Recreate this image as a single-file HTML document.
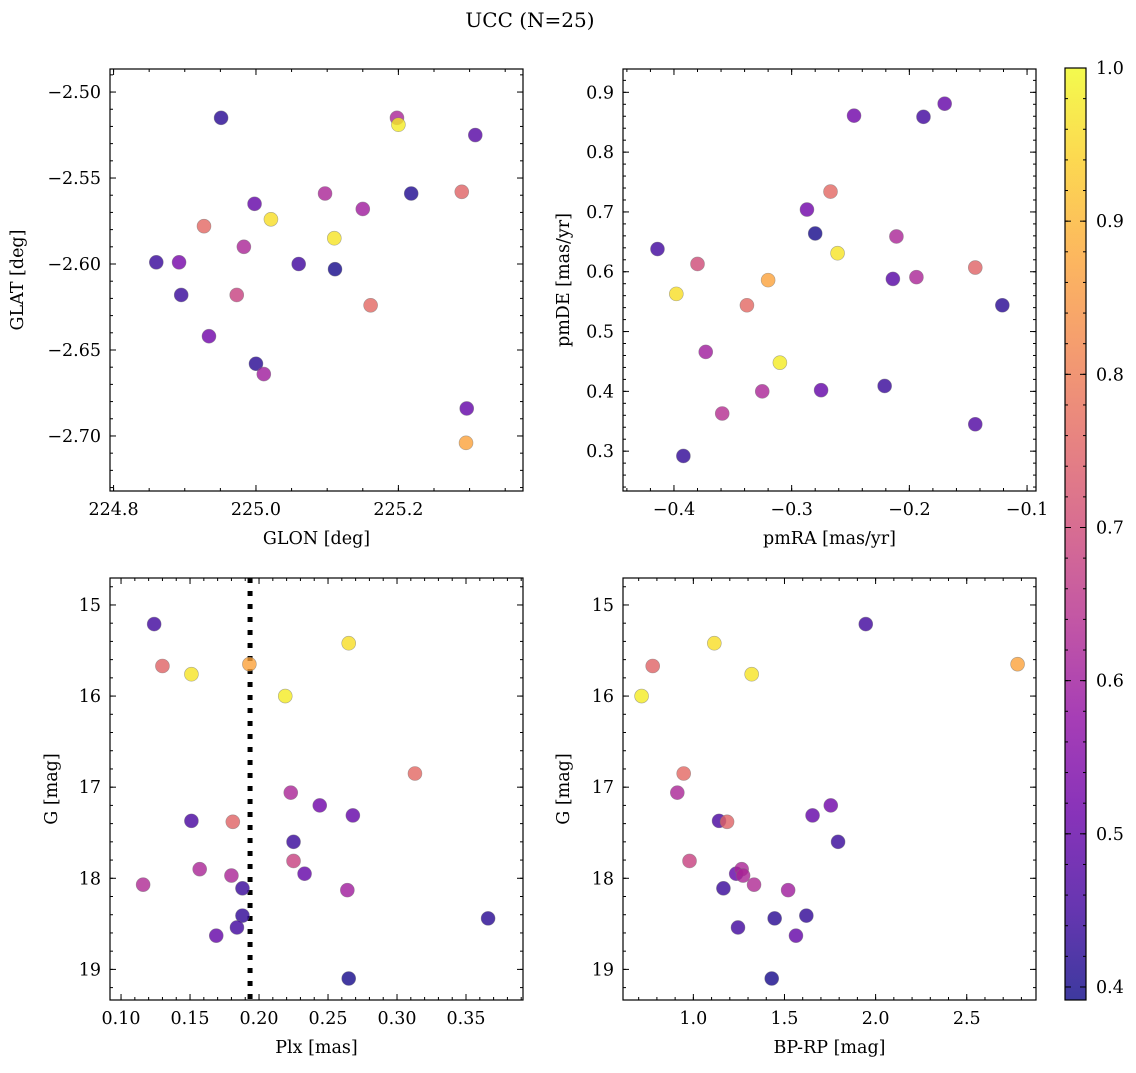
<!DOCTYPE html>
<html><head><meta charset="utf-8"><style>
body{margin:0;background:#fff;}
svg text{font-family:"DejaVu Serif","Liberation Serif",serif;fill:#000;}
</style></head><body>
<svg id="fig" xmlns="http://www.w3.org/2000/svg" width="1136" height="1068" viewBox="0 0 1136 1068">
<defs><linearGradient id="plasma" x1="0" y1="1" x2="0" y2="0">
<stop offset="0" stop-color="#0d0887"/><stop offset="0.1" stop-color="#41049d"/><stop offset="0.2" stop-color="#6a00a8"/><stop offset="0.3" stop-color="#8f0da4"/><stop offset="0.4" stop-color="#b12a90"/><stop offset="0.5" stop-color="#cc4778"/><stop offset="0.6" stop-color="#e16462"/><stop offset="0.7" stop-color="#f2844b"/><stop offset="0.8" stop-color="#fca636"/><stop offset="0.9" stop-color="#fcce25"/><stop offset="1" stop-color="#f0f921"/>
</linearGradient></defs>
<text x="530" y="27" font-size="20" text-anchor="middle">UCC (N=25)</text>
</svg>
<script>
// Panel 1: GLON / GLAT
const glon = [224.951,225.198,225.200,225.308,225.218,225.289,225.097,225.150,224.998,225.021,224.927,225.110,224.983,224.860,224.892,225.060,225.111,224.895,224.973,225.161,224.934,225.000,225.011,225.296,225.295];
const glat = [-2.515,-2.515,-2.519,-2.525,-2.559,-2.558,-2.559,-2.568,-2.565,-2.574,-2.578,-2.585,-2.590,-2.599,-2.599,-2.600,-2.603,-2.618,-2.618,-2.624,-2.642,-2.658,-2.664,-2.684,-2.704];
const prob1 = [0.42,0.62,0.98,0.48,0.41,0.75,0.62,0.60,0.50,0.96,0.76,0.97,0.62,0.44,0.53,0.45,0.40,0.44,0.68,0.76,0.52,0.42,0.60,0.50,0.87];
// Panel 2: pmRA / pmDE
const pmra = [-0.247,-0.188,-0.170,-0.267,-0.287,-0.280,-0.211,-0.261,-0.414,-0.380,-0.398,-0.320,-0.338,-0.214,-0.194,-0.144,-0.121,-0.373,-0.310,-0.325,-0.275,-0.221,-0.359,-0.144,-0.392];
const pmde = [0.861,0.859,0.881,0.734,0.704,0.664,0.659,0.631,0.638,0.613,0.563,0.586,0.544,0.588,0.591,0.607,0.544,0.466,0.448,0.400,0.402,0.409,0.363,0.345,0.292];
const prob2 = [0.52,0.45,0.50,0.76,0.52,0.40,0.62,0.97,0.45,0.70,0.96,0.87,0.76,0.48,0.62,0.75,0.42,0.60,0.98,0.62,0.50,0.44,0.64,0.47,0.43];
// Panels 3/4: Plx, BP-RP, G
const gmag = [15.21,15.65,15.42,15.67,15.76,16.00,16.85,17.06,17.20,17.31,17.37,17.38,17.60,17.81,17.90,17.95,17.97,18.07,18.11,18.13,18.44,18.41,18.54,18.63,19.10];
const plx = [0.124,0.193,0.265,0.130,0.151,0.219,0.313,0.223,0.244,0.268,0.151,0.181,0.225,0.225,0.157,0.233,0.180,0.116,0.188,0.264,0.366,0.188,0.184,0.169,0.265];
const bprp = [1.946,2.779,1.115,0.777,1.320,0.716,0.947,0.912,1.754,1.654,1.141,1.185,1.794,0.979,1.265,1.235,1.273,1.333,1.165,1.520,1.446,1.620,1.245,1.563,1.430];
const prob3 = [0.45,0.87,0.96,0.75,0.97,0.98,0.76,0.62,0.52,0.50,0.46,0.75,0.44,0.68,0.62,0.50,0.62,0.63,0.44,0.60,0.42,0.43,0.45,0.50,0.40];
const plxMedian = 0.1935;
const cbTicks = [0.4,0.5,0.6,0.7,0.8,0.9,1.0];
const cbMin = 0.3915, cbMax = 1.0;

const NS = "http://www.w3.org/2000/svg";
const svg = document.getElementById('fig');
const stops = [[13,8,135],[65,4,157],[106,0,168],[143,13,164],[177,42,144],[204,71,120],[225,100,98],[242,132,75],[252,166,54],[252,206,37],[240,249,33]];
function plasma(p){
  let t = Math.max(0, Math.min(1, (p - cbMin) / (cbMax - cbMin))) * 10;
  let i = Math.min(9, Math.floor(t)), f = t - i;
  const c = stops[i].map((v, k) => Math.round(v + (stops[i+1][k] - v) * f));
  return `rgb(${c[0]},${c[1]},${c[2]})`;
}
function mk(tag, attrs, parent){
  const e = document.createElementNS(NS, tag);
  for (const k in attrs) e.setAttribute(k, attrs[k]);
  (parent || svg).appendChild(e);
  return e;
}
function fmt(v, d){ return (v < 0 ? '\u2212' : '') + Math.abs(v).toFixed(d); }

function panel(cfg){
  const g = mk('g', {});
  
  
  const {L, T, R, B} = cfg;
  const sx = v => L + (v - cfg.x0) / (cfg.x1 - cfg.x0) * (R - L);
  const sy = cfg.yInv ? v => T + (v - cfg.y0) / (cfg.y1 - cfg.y0) * (B - T)
                      : v => B - (v - cfg.y0) / (cfg.y1 - cfg.y0) * (B - T);
  const tg = mk('g', {stroke: '#000', 'stroke-width': 1}, g);
  function ticksX(step, len){
    const s = Math.ceil(cfg.x0 / step - 1e-6);
    for (let k = s; k * step <= cfg.x1 + 1e-9; k++){
      const x = sx(k * step);
      mk('line', {x1: x, x2: x, y1: B, y2: B - len}, tg);
      mk('line', {x1: x, x2: x, y1: T, y2: T + len}, tg);
    }
  }
  function ticksY(step, len){
    const lo = Math.min(cfg.y0, cfg.y1), hi = Math.max(cfg.y0, cfg.y1);
    const s = Math.ceil(lo / step - 1e-6);
    for (let k = s; k * step <= hi + 1e-9; k++){
      const y = sy(k * step);
      mk('line', {x1: L, x2: L + len, y1: y, y2: y}, tg);
      mk('line', {x1: R, x2: R - len, y1: y, y2: y}, tg);
    }
  }
  ticksX(cfg.xMinor, 3); ticksX(cfg.xMajor, 6);
  ticksY(cfg.yMinor, 3); ticksY(cfg.yMajor, 6);
  cfg.xTicks.forEach(v => {
    const t = mk('text', {x: sx(v), y: B + 24, 'font-size': 17.5, 'text-anchor': 'middle'}, g);
    
    
    t.textContent = fmt(v, cfg.xDec);
  });
  cfg.yTicks.forEach(v => {
    const t = mk('text', {x: L - 9, y: sy(v) + 6, 'font-size': 17.5, 'text-anchor': 'end'}, g);
    
    
    t.textContent = fmt(v, cfg.yDec);
  });
  const xl = mk('text', {x: (L + R) / 2, y: B + 53, 'font-size': 17.5, 'text-anchor': 'middle'}, g);
  
  
  xl.textContent = cfg.xLabel;
  const yl = mk('text', {x: 0, y: 0, 'font-size': 17.5, 'text-anchor': 'middle', transform: `translate(${cfg.yLabelX},${(T + B) / 2}) rotate(-90)`}, g);
  
  
  yl.textContent = cfg.yLabel;
  if (cfg.vline !== undefined){
    const vl = mk('line', {x1: sx(cfg.vline), x2: sx(cfg.vline), y1: T, y2: B, stroke: '#000', 'stroke-width': 5, 'stroke-dasharray': '5 8'}, g);
    
    
  }
  const idx = cfg.xs.map((_, i) => i).sort((a, b) => cfg.ps[a] - cfg.ps[b]);
  idx.forEach(i => {
    const c = mk('circle', {cx: sx(cfg.xs[i]), cy: sy(cfg.ys[i]), r: 7, fill: plasma(cfg.ps[i]), 'fill-opacity': 0.8, stroke: '#777', 'stroke-opacity': 0.6, 'stroke-width': 0.6}, g);
    
    
  });
  const fr = mk('rect', {x: L, y: T, width: R - L, height: B - T, fill: 'none', stroke: '#000', 'stroke-width': 1.2}, g);
  
  
}

panel({name:'glon-glat-panel', L:110, T:69, R:523, B:491, x0:224.795, x1:225.375, y0:-2.7320, y1:-2.4866,
  xMajor:0.2, xMinor:0.05, yMajor:0.05, yMinor:0.01, xTicks:[224.8,225.0,225.2], xDec:1,
  yTicks:[-2.50,-2.55,-2.60,-2.65,-2.70], yDec:2, xLabel:'GLON [deg]', yLabel:'GLAT [deg]', yLabelX:23,
  xs:glon, ys:glat, ps:prob1});
panel({name:'proper-motion-panel', L:623, T:69, R:1036, B:491, x0:-0.4433, x1:-0.0924, y0:0.2334, y1:0.9390,
  xMajor:0.1, xMinor:0.02, yMajor:0.1, yMinor:0.02, xTicks:[-0.4,-0.3,-0.2,-0.1], xDec:1,
  yTicks:[0.3,0.4,0.5,0.6,0.7,0.8,0.9], yDec:1, xLabel:'pmRA [mas/yr]', yLabel:'pmDE [mas/yr]', yLabelX:569,
  xs:pmra, ys:pmde, ps:prob2});
panel({name:'plx-g-panel', L:110, T:578, R:523, B:1000, x0:0.0920, x1:0.3913, y0:14.704, y1:19.336, yInv:true,
  xMajor:0.05, xMinor:0.01, yMajor:1, yMinor:0.2, xTicks:[0.10,0.15,0.20,0.25,0.30,0.35], xDec:2,
  yTicks:[15,16,17,18,19], yDec:0, xLabel:'Plx [mas]', yLabel:'G [mag]', yLabelX:57,
  xs:plx, ys:gmag, ps:prob3, vline:plxMedian});
panel({name:'cmd-panel', L:623, T:578, R:1036, B:1000, x0:0.614, x1:2.880, y0:14.704, y1:19.336, yInv:true,
  xMajor:0.5, xMinor:0.1, yMajor:1, yMinor:0.2, xTicks:[1.0,1.5,2.0,2.5], xDec:1,
  yTicks:[15,16,17,18,19], yDec:0, xLabel:'BP-RP [mag]', yLabel:'G [mag]', yLabelX:569,
  xs:bprp, ys:gmag, ps:prob3});

(function(){
  const L = 1065, R = 1086, T = 68, B = 1000;
  const g = mk('g', {});
  
  
  mk('rect', {x: L, y: T, width: R - L, height: B - T, fill: 'url(#plasma)', 'fill-opacity': 0.8}, g);
  const sy = v => B - (v - cbMin) / (cbMax - cbMin) * (B - T);
  for (let k = 20; k <= 50; k++){
    const v = k * 0.02; if (v < cbMin) continue;
    mk('line', {x1: R, x2: R - 3, y1: sy(v), y2: sy(v), stroke: '#000'}, g);
    mk('line', {x1: L, x2: L + 3, y1: sy(v), y2: sy(v), stroke: '#000'}, g);
  }
  cbTicks.forEach(v => {
    mk('line', {x1: R, x2: R - 6, y1: sy(v), y2: sy(v), stroke: '#000'}, g);
    mk('line', {x1: L, x2: L + 6, y1: sy(v), y2: sy(v), stroke: '#000'}, g);
    const t = mk('text', {x: R + 10, y: sy(v) + 6, 'font-size': 17.5}, g);
    
    
    t.textContent = v.toFixed(1);
  });
  mk('rect', {x: L, y: T, width: R - L, height: B - T, fill: 'none', stroke: '#000', 'stroke-width': 1.2}, g);
})();
</script>
</body></html>
